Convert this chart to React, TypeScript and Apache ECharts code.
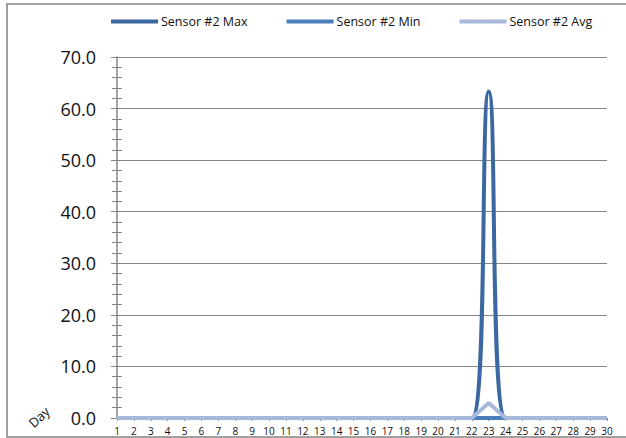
import React, { useEffect, useRef } from "react";
import * as echarts from "echarts";

const days = Array.from({ length: 30 }, (_, i) => String(i + 1));
const maxValues = [0,0,0,0,0,0,0,0,0,0,0,0,0,0,0,0,0,0,0,0,0,0,63.3,0,0,0,0,0,0,0];
const minValues = [0,0,0,0,0,0,0,0,0,0,0,0,0,0,0,0,0,0,0,0,0,0,0,0,0,0,0,0,0,0];
const avgValues = [0,0,0,0,0,0,0,0,0,0,0,0,0,0,0,0,0,0,0,0,0,0,2.9,0,0,0,0,0,0,0];
const seriesNames = ["Sensor #2 Max", "Sensor #2 Min", "Sensor #2 Avg"];
const colors = ["#3C68A2", "#4A7EBB", "#A7B9DA"];

export default function App() {
  const ref = useRef<HTMLDivElement>(null);
  useEffect(() => {
    document.body.style.margin = "0";
    const chart = echarts.init(ref.current!, null, { renderer: "svg" });
    const font = "Open Sans, Noto Sans, sans-serif";
    chart.setOption({
      animation: false,
      backgroundColor: "#ffffff",
      color: colors,
      textStyle: { fontFamily: font },
      legend: {
        top: 10,
        left: 106,
        itemWidth: 47,
        itemHeight: 4,
        itemGap: 39,
        icon: "rect",
        textStyle: { fontSize: 12.5, color: "#111", padding: [0, 0, 0, -2] },
        data: seriesNames,
      },
      grid: { left: 117, right: 19, top: 57, bottom: 20, containLabel: false },
      xAxis: {
        type: "category",
        data: days,
        boundaryGap: false,
        axisLine: { show: true, lineStyle: { color: "#868686", width: 1 } },
        axisTick: { show: true, length: 3, lineStyle: { color: "#868686" } },
        axisLabel: { fontSize: 10, color: "#111", margin: 8, interval: 0, fontFamily: font },
      },
      yAxis: [
        {
          type: "value",
          min: 0,
          max: 70,
          interval: 10,
          axisLine: { show: true, lineStyle: { color: "#868686", width: 1.5 } },
          axisTick: { show: true, length: 6, lineStyle: { color: "#868686" } },
          minorTick: { show: true, splitNumber: 5, length: 5, lineStyle: { color: "#868686" } },
          splitLine: { show: true, lineStyle: { color: "#868686", width: 1 } },
          axisLabel: {
            fontSize: 18,
            color: "#111",
            margin: 21,
            fontFamily: font,
            formatter: (v: number) => v.toFixed(1),
          },
        },
        {
          type: "value",
          min: 0,
          max: 70,
          interval: 10,
          position: "left",
          axisLine: { show: false },
          axisTick: { show: true, inside: true, length: 5, lineStyle: { color: "#868686" } },
          minorTick: { show: true, splitNumber: 5, length: 5, lineStyle: { color: "#868686" } },
          splitLine: { show: false },
          axisLabel: { show: false },
        },
      ],
      graphic: [
        {
          type: "rect",
          shape: { x: 7, y: 4, width: 640, height: 433 },
          style: { fill: "none", stroke: "#a0a0a0", lineWidth: 2 },
          silent: true,
        },
        {
          type: "text",
          x: 39,
          y: 417,
          rotation: Math.PI / 4.2,
          style: {
            text: "Day",
            fontSize: 13,
            fontFamily: font,
            fill: "#111",
            align: "center",
            verticalAlign: "middle",
          },
        },
      ],
      series: [
        {
          name: seriesNames[0],
          type: "line",
          data: maxValues,
          smooth: 0.5,
          showSymbol: false,
          lineStyle: { width: 4, color: colors[0] },
          itemStyle: { color: colors[0] },
        },
        {
          name: seriesNames[1],
          type: "line",
          data: minValues,
          showSymbol: false,
          lineStyle: { width: 4, color: colors[1] },
          itemStyle: { color: colors[1] },
        },
        {
          name: seriesNames[2],
          type: "line",
          data: avgValues,
          showSymbol: false,
          lineStyle: { width: 4, color: colors[2] },
          itemStyle: { color: colors[2] },
        },
      ],
    });
    return () => chart.dispose();
  }, []);
  return (
    <div
      ref={ref}
      style={{ position: "fixed", left: 0, top: 0, width: 626, height: 438 }}
    />
  );
}
